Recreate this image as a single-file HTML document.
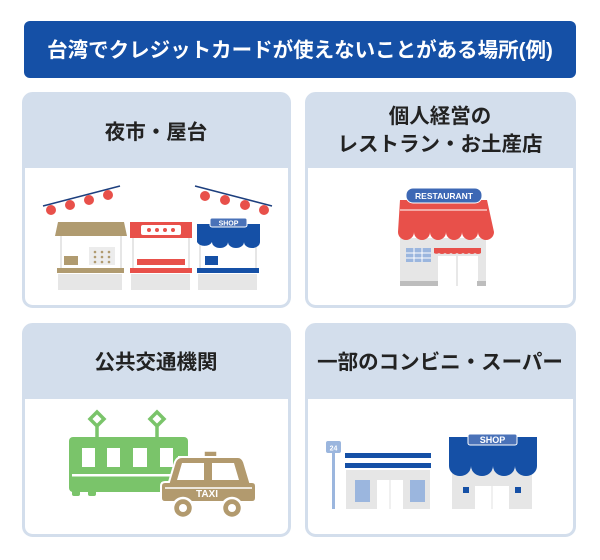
<!DOCTYPE html>
<html><head><meta charset="utf-8"><style>
html,body{margin:0;padding:0;background:#fff;width:600px;height:560px;overflow:hidden}
svg{display:block}
text{font-family:"Liberation Sans","Noto Sans CJK JP",sans-serif;font-weight:bold}
</style></head><body>
<svg width="600" height="560" viewBox="0 0 600 560">
<rect x="24" y="21" width="552" height="57" rx="6" fill="#1550a6"/>
<text x="300" y="57" font-size="20.5" fill="#fff" text-anchor="middle">台湾でクレジットカードが使えないことがある場所(例)</text>

<g fill="#fff" stroke="#d3deec" stroke-width="3">
<rect x="23.5" y="93.5" width="266" height="213" rx="9"/>
<rect x="306.5" y="93.5" width="268" height="213" rx="9"/>
<rect x="23.5" y="324.5" width="266" height="211" rx="9"/>
<rect x="306.5" y="324.5" width="268" height="211" rx="9"/>
</g>
<g fill="#d3deec">
<path d="M23 168V102a9 9 0 0 1 9-9h249a9 9 0 0 1 9 9v66z"/>
<path d="M306 168V102a9 9 0 0 1 9-9h251a9 9 0 0 1 9 9v66z"/>
<path d="M23 399V333a9 9 0 0 1 9-9h249a9 9 0 0 1 9 9v66z"/>
<path d="M306 399V333a9 9 0 0 1 9-9h251a9 9 0 0 1 9 9v66z"/>
</g>
<g font-size="20.5" fill="#222" text-anchor="middle">
<text x="156" y="139">夜市・屋台</text>
<text x="440" y="123">個人経営の</text>
<text x="440" y="151">レストラン・お土産店</text>
<text x="156" y="369">公共交通機関</text>
<text x="440" y="369">一部のコンビニ・スーパー</text>
</g>

<!-- night market -->
<line x1="43" y1="206" x2="120" y2="186" stroke="#1d3f7e" stroke-width="1.5"/>
<line x1="195" y1="186" x2="272" y2="206" stroke="#1d3f7e" stroke-width="1.5"/>
<g fill="#e8504a">
<circle cx="51" cy="210" r="5"/><circle cx="70" cy="205" r="5"/><circle cx="89" cy="200" r="5"/><circle cx="108" cy="195" r="5"/>
<circle cx="205" cy="196" r="5"/><circle cx="225" cy="200" r="5"/><circle cx="245" cy="205" r="5"/><circle cx="264" cy="210" r="5"/>
</g>
<g fill="#e6e6e6">
<rect x="58" y="274" width="64" height="16"/><rect x="131" y="274" width="59" height="16"/><rect x="198" y="274" width="59" height="16"/>
<rect x="60" y="236" width="2" height="32"/><rect x="120" y="236" width="2" height="32"/>
<rect x="132" y="238" width="2" height="30"/><rect x="188" y="238" width="2" height="30"/>
<rect x="199" y="240" width="2" height="28"/><rect x="255" y="240" width="2" height="28"/>
</g>
<path d="M58 222h66l3 14H55z" fill="#b09b70"/>
<rect x="64" y="256" width="14" height="9" fill="#b09b70"/>
<rect x="89" y="247" width="26" height="18" fill="#ececec"/>
<g fill="#b09b70"><circle cx="95" cy="252" r="1.3"/><circle cx="102" cy="252" r="1.3"/><circle cx="109" cy="252" r="1.3"/><circle cx="95" cy="257" r="1.3"/><circle cx="102" cy="257" r="1.3"/><circle cx="109" cy="257" r="1.3"/><circle cx="95" cy="262" r="1.3"/><circle cx="102" cy="262" r="1.3"/><circle cx="109" cy="262" r="1.3"/></g>
<rect x="57" y="268" width="67" height="5" fill="#b09b70"/>
<rect x="130" y="222" width="62" height="16" fill="#e8504a"/>
<rect x="141" y="225" width="40" height="10" rx="2" fill="#fff"/>
<g fill="#e8504a"><circle cx="149" cy="230" r="2"/><circle cx="157" cy="230" r="2"/><circle cx="165" cy="230" r="2"/><circle cx="173" cy="230" r="2"/></g>
<rect x="137" y="259" width="48" height="6" fill="#e8504a"/>
<rect x="130" y="268" width="62" height="5" fill="#e8504a"/>
<path d="M197 224h63v18a8 6 0 0 1-16 0a8 6 0 0 1-16 0a8 6 0 0 1-16 0a8 6 0 0 1-15 0z" fill="#1550a6"/>
<rect x="210" y="218" width="37" height="9" rx="2" fill="#4a72b8" stroke="#fff" stroke-width="1"/>
<text x="228.5" y="225.5" font-size="7" fill="#fff" text-anchor="middle">SHOP</text>
<rect x="205" y="256" width="13" height="9" fill="#1550a6"/>
<rect x="197" y="268" width="62" height="5" fill="#1550a6"/>

<!-- restaurant -->
<rect x="400" y="238" width="86" height="48" fill="#e6e6e6"/>
<path d="M400 200h87l7 32a8 8 0 0 1-16 0a8 8 0 0 1-16 0a8 8 0 0 1-16 0a8 8 0 0 1-16 0a8 8 0 0 1-16 0a8 8 0 0 1-16 0z" fill="#e8504a"/>
<line x1="400" y1="210" x2="487" y2="210" stroke="#fff" stroke-width="1"/>
<rect x="406" y="188" width="76" height="15" rx="7" fill="#3d68b5" stroke="#fff" stroke-width="1"/>
<text x="444" y="199" font-size="8.5" fill="#fff" text-anchor="middle">RESTAURANT</text>
<rect x="406" y="248" width="25" height="14" fill="#9bb6de"/>
<path d="M406 253h25M406 258h25M414 248v14M422 248v14" stroke="#fff" stroke-width="1"/>
<path d="M434 248h47v5a4 3 0 0 1-6 0a4 3 0 0 1-6 0a4 3 0 0 1-6 0a4 3 0 0 1-6 0a4 3 0 0 1-6 0a4 3 0 0 1-6 0a4 3 0 0 1-6 0a4 3 0 0 1-5 0z" fill="#e8504a"/>
<rect x="438" y="256" width="40" height="30" fill="#fff"/>
<line x1="457" y1="256" x2="457" y2="286" stroke="#e0e0e0" stroke-width="1.5"/>
<rect x="400" y="281" width="38" height="5" fill="#bdbdbd"/><rect x="477" y="281" width="9" height="5" fill="#bdbdbd"/>

<!-- train & taxi -->
<g fill="none" stroke="#7ac46a" stroke-width="3.5">
<path d="M97 412l7 7-7 7-7-7z M97 426v11"/>
<path d="M157 412l7 7-7 7-7-7z M157 426v11"/>
</g>
<rect x="69" y="437" width="119" height="55" rx="4" fill="#7ac46a"/>
<rect x="72" y="490" width="8" height="6" rx="2" fill="#7ac46a"/><rect x="88" y="490" width="8" height="6" rx="2" fill="#7ac46a"/>
<g fill="#fff"><rect x="82" y="448" width="13" height="19"/><rect x="107" y="448" width="13" height="19"/><rect x="133" y="448" width="14" height="19"/><rect x="160" y="448" width="13" height="19"/><rect x="72" y="474" width="116" height="2.5"/></g>
<rect x="204" y="451" width="13" height="6" fill="#b29a6e" stroke="#fff" stroke-width="1.5"/>
<path d="M178 457h60q4 0 6 5l6 20h2q4 0 4 4v12q0 4-4 4h-87q-4 0-4-4v-12q0-4 4-4h4l6-20q2-5 7-5z" fill="#b29a6e" stroke="#fff" stroke-width="2"/>
<path d="M182 463h22v17h-27z M212 463h22l5 17h-27z" fill="#fff"/>
<line x1="165" y1="488" x2="252" y2="488" stroke="#fff" stroke-width="1.5"/>
<text x="207" y="497" font-size="10" fill="#fff" text-anchor="middle">TAXI</text>
<circle cx="183" cy="508" r="10" fill="#b29a6e" stroke="#fff" stroke-width="2.5"/>
<circle cx="232" cy="508" r="10" fill="#b29a6e" stroke="#fff" stroke-width="2.5"/>
<circle cx="183" cy="508" r="4" fill="#fff"/><circle cx="232" cy="508" r="4" fill="#fff"/>

<!-- convenience -->
<rect x="332" y="448" width="3" height="61" fill="#9bb6de"/>
<rect x="326" y="441" width="15" height="12" rx="2" fill="#9bb6de"/>
<text x="333.5" y="450.5" font-size="7" fill="#fff" text-anchor="middle">24</text>
<rect x="345" y="453" width="86" height="5" fill="#1550a6"/><rect x="345" y="463" width="86" height="5" fill="#1550a6"/>
<rect x="346" y="470" width="84" height="39" fill="#e6e6e6"/>
<rect x="355" y="480" width="15" height="22" fill="#9bb6de"/><rect x="410" y="480" width="15" height="22" fill="#9bb6de"/>
<rect x="377" y="480" width="26" height="29" fill="#fff"/><line x1="390" y1="480" x2="390" y2="509" stroke="#e0e0e0" stroke-width="1"/>
<rect x="452" y="470" width="80" height="39" fill="#e6e6e6"/>
<path d="M448 437h89v29a11 10 0 0 1-22 0a11 10 0 0 1-22 0a11 10 0 0 1-22 0a11 10 0 0 1-22 0v-29z" fill="#1550a6"/>
<rect x="468" y="434" width="49" height="11" rx="2" fill="#4a72b8" stroke="#fff" stroke-width="1"/>
<text x="492.5" y="443" font-size="9" fill="#fff" text-anchor="middle">SHOP</text>
<rect x="475" y="486" width="34" height="23" fill="#fff"/><line x1="492" y1="486" x2="492" y2="509" stroke="#e0e0e0" stroke-width="1"/>
<rect x="463" y="487" width="6" height="6" fill="#1550a6"/><rect x="515" y="487" width="6" height="6" fill="#1550a6"/>
</svg>
</body></html>
